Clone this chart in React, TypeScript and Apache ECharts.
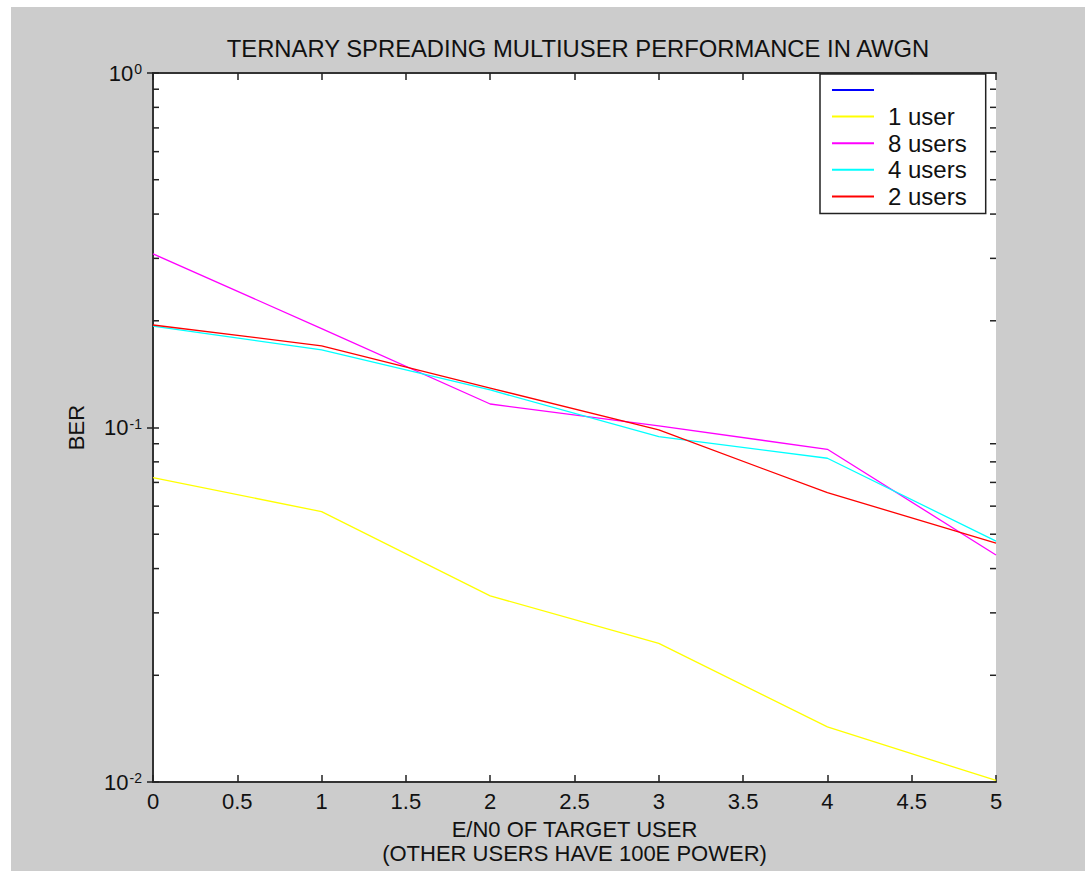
import { useEffect, useRef } from 'react';
import * as echarts from 'echarts';

const ebN0 = [0, 1, 2, 3, 4, 5];
const blankSeries: number[] = [];
const oneUser = [0.0722, 0.0579, 0.0335, 0.0246, 0.0143, 0.0101];
const eightUsers = [0.309, 0.19, 0.1165, 0.101, 0.0868, 0.0437];
const fourUsers = [0.1933, 0.1655, 0.1276, 0.0942, 0.0819, 0.0478];
const twoUsers = [0.1946, 0.17, 0.1292, 0.0984, 0.0655, 0.0472];
const seriesNames = [' ', '1 user', '8 users', '4 users', '2 users'];
const seriesColors = ['#0000ff', '#ffff00', '#ff00ff', '#00ffff', '#ff0000'];
const minorTickValues = [0.02, 0.03, 0.04, 0.05, 0.06, 0.07, 0.08, 0.09, 0.2, 0.3, 0.4, 0.5, 0.6, 0.7, 0.8, 0.9];

const FONT = '"Liberation Sans", Arial, Helvetica, sans-serif';
const TXT = '#111111';
const AX = '#333333';

export default function App() {
  const ref = useRef<HTMLDivElement>(null);
  useEffect(() => {
    const chart = echarts.init(ref.current!, null, { renderer: 'svg' });
    const allData = [blankSeries, oneUser, eightUsers, fourUsers, twoUsers];
    const lineSeries = allData.map((arr, k) => ({
      type: 'line',
      name: seriesNames[k],
      color: seriesColors[k],
      data: arr.map((v, i) => [ebN0[i], v]),
      showSymbol: false,
      symbol: 'none',
      lineStyle: { color: seriesColors[k], width: 1.3 },
      xAxisIndex: 0,
      yAxisIndex: 0,
      z: 3 + k,
    }));
    const option: any = {
      animation: false,
      backgroundColor: '#cccccc',
      textStyle: { fontFamily: FONT },
      title: {
        text: 'TERNARY SPREADING MULTIUSER PERFORMANCE IN AWGN',
        left: 567,
        top: 29,
        textAlign: 'center',
        padding: 0,
        textStyle: { fontSize: 23.8, fontWeight: 'normal', color: TXT, fontFamily: FONT, lineHeight: 24 },
      },
      legend: {
        data: seriesNames,
        orient: 'vertical',
        left: 809,
        top: 67,
        padding: [4, 19, 5, 12],
        itemGap: 2.6,
        itemWidth: 42,
        itemHeight: 2,
        icon: 'rect',
        backgroundColor: '#ffffff',
        borderColor: '#222222',
        borderWidth: 1.5,
        selectedMode: false,
        textStyle: { fontSize: 24, lineHeight: 22, color: TXT, fontFamily: FONT, padding: [0, 0, 0, 9] },
      },
      grid: { left: 142, top: 66, width: 843, height: 709, backgroundColor: '#ffffff', show: true, borderWidth: 0 },
      xAxis: [
        {
          type: 'value',
          position: 'bottom',
          min: 0,
          max: 5,
          interval: 0.5,
          name: 'E/N0 OF TARGET USER\n(OTHER USERS HAVE 100E POWER)',
          nameLocation: 'middle',
          nameGap: 35,
          nameTextStyle: { fontSize: 22, lineHeight: 24, color: TXT, fontFamily: FONT },
          axisLine: { show: true, lineStyle: { color: AX, width: 2 } },
          axisTick: { show: true, inside: true, length: 7, lineStyle: { color: '#222', width: 1.5 } },
          axisLabel: { fontSize: 22, color: TXT, margin: 8, fontFamily: FONT },
          splitLine: { show: false },
        },
        {
          type: 'value',
          position: 'top',
          min: 0,
          max: 5,
          interval: 0.5,
          axisLine: { show: true, lineStyle: { color: AX, width: 2 } },
          axisTick: { show: true, inside: true, length: 7, lineStyle: { color: '#222', width: 1.5 } },
          axisLabel: { show: false },
          splitLine: { show: false },
        },
      ],
      yAxis: [
        {
          type: 'log',
          logBase: 10,
          position: 'left',
          min: 0.01,
          max: 1,
          name: 'BER',
          nameLocation: 'middle',
          nameGap: 66,
          nameTextStyle: { fontSize: 22, color: TXT, fontFamily: FONT },
          axisLine: { show: true, lineStyle: { color: AX, width: 2 } },
          axisTick: { show: true, inside: true, length: 6, lineStyle: { color: '#222', width: 1.5 } },
          axisLabel: {
            margin: 11,
            formatter: (v: number) => `{a|10}{b|${Math.round(Math.log10(v))}}`,
            rich: {
              a: { fontSize: 22, color: TXT, fontFamily: FONT, lineHeight: 22 },
              b: { fontSize: 14, color: TXT, fontFamily: FONT, lineHeight: 14, verticalAlign: 'top', padding: [0, 0, 12, 1] },
            },
          },
          splitLine: { show: false },
        },
        {
          type: 'log',
          logBase: 10,
          position: 'right',
          min: 0.01,
          max: 1,
          axisLine: { show: true, lineStyle: { color: AX, width: 2 } },
          axisTick: { show: true, inside: true, length: 6, lineStyle: { color: '#222', width: 1.5 } },
          axisLabel: { show: false },
          splitLine: { show: false },
        },
      ],
      series: [
        ...lineSeries,
        {
          type: 'custom',
          name: 'minorTicks',
          silent: true,
          xAxisIndex: 0,
          yAxisIndex: 0,
          z: 10,
          data: minorTickValues.map((v) => [0, v]),
          encode: { x: 0, y: 1 },
          renderItem: (_p: any, api: any) => {
            const v = api.value(1);
            const l = api.coord([0, v]);
            const r = api.coord([5, v]);
            const st = { stroke: '#222', lineWidth: 1.5 };
            return {
              type: 'group',
              children: [
                { type: 'line', shape: { x1: l[0], y1: l[1], x2: l[0] + 6, y2: l[1] }, style: st },
                { type: 'line', shape: { x1: r[0] - 6, y1: r[1], x2: r[0], y2: r[1] }, style: st },
              ],
            };
          },
        },
      ],
    };
    chart.setOption(option);
    return () => chart.dispose();
  }, []);
  return (
    <div
      ref={ref}
      style={{ position: 'absolute', left: 11, top: 7, width: 1074, height: 864, background: '#cccccc' }}
    />
  );
}
